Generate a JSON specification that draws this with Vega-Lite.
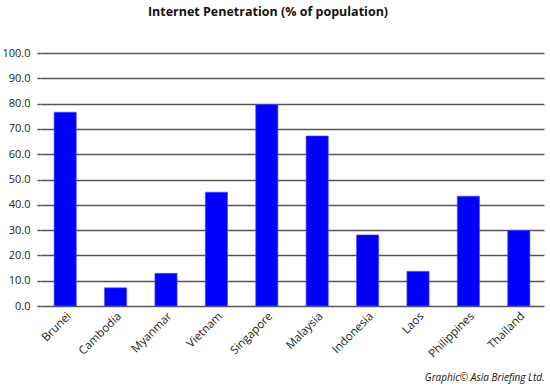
{
  "$schema": "https://vega.github.io/schema/vega-lite/v6.json",
  "width": 504,
  "height": 253,
  "autosize": "none",
  "padding": {"left": 40, "top": 53, "right": 6, "bottom": 85},
  "background": "white",
  "title": {
    "text": "Internet Penetration (% of population)",
    "font": "Open Sans",
    "fontSize": 12.5,
    "fontWeight": "bold",
    "color": "#111",
    "anchor": "middle",
    "dx": -24,
    "offset": 29
  },
  "data": {
    "values": [
      {"country": "Brunei", "value": 76.6},
      {"country": "Cambodia", "value": 7.2},
      {"country": "Myanmar", "value": 12.9},
      {"country": "Vietnam", "value": 45.0},
      {"country": "Singapore", "value": 79.6},
      {"country": "Malaysia", "value": 67.2},
      {"country": "Indonesia", "value": 28.1},
      {"country": "Laos", "value": 13.7},
      {"country": "Philippines", "value": 43.4},
      {"country": "Thailand", "value": 29.8}
    ]
  },
  "mark": {"type": "bar", "color": "#0000FF", "stroke": "#4d4dff", "strokeWidth": 0.6},
  "encoding": {
    "x": {
      "field": "country",
      "type": "nominal",
      "sort": null,
      "scale": {"paddingInner": 0.56, "paddingOuter": 0.28},
      "axis": {
        "title": "Graphic© Asia Briefing Ltd.",
        "titleFont": "Open Sans",
        "titleFontStyle": "italic",
        "titleFontWeight": "normal",
        "titleFontSize": 10,
        "titleColor": "#111",
        "titleAnchor": "end",
        "titleAlign": "right",
        "titleBaseline": "alphabetic",
        "titleY": 74,
        "labelAngle": -45,
        "labelAlign": "right",
        "labelBaseline": "top",
        "labelFont": "Open Sans",
        "labelFontSize": 11.5,
        "labelColor": "#222",
        "labelPadding": 4,
        "ticks": false,
        "domain": false,
        "grid": false
      }
    },
    "y": {
      "field": "value",
      "type": "quantitative",
      "scale": {"domain": [0, 100]},
      "axis": {
        "title": null,
        "values": [0, 10, 20, 30, 40, 50, 60, 70, 80, 90, 100],
        "format": ".1f",
        "labelFont": "Open Sans",
        "labelFontSize": 11,
        "labelColor": "#222",
        "labelPadding": 7,
        "domain": false,
        "ticks": true,
        "tickSize": 3,
        "tickColor": "#555",
        "tickWidth": 1.5,
        "grid": true,
        "gridColor": "#555",
        "gridWidth": 1.5
      }
    }
  },
  "config": {"view": {"stroke": null}}
}
